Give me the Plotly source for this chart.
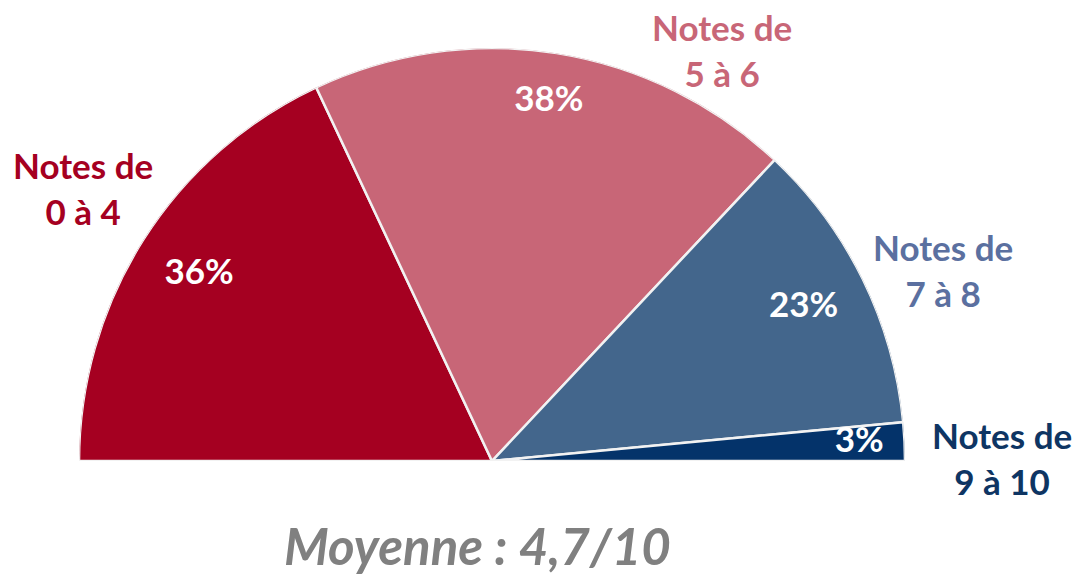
import plotly.graph_objects as go

categories = ["Notes de<br>0 à 4", "Notes de<br>5 à 6", "Notes de<br>7 à 8", "Notes de<br>9 à 10"]
values = [36, 38, 23, 3]
pct_labels = ["36%", "38%", "23%", "3%"]
slice_colors = ["#A50021", "#C86677", "#43668C", "#04336A"]
label_colors = ["#A50021", "#C86677", "#5B70A0", "#0E3563"]
subtitle = "Moyenne : 4,7/10"

total = sum(values)
# angular widths (degrees over a 180° half-circle) and centers
widths = [v / total * 180 for v in values]
centers = []
acc = 0
for w in widths:
    centers.append(acc + w / 2)
    acc += w

FONT = "Lato"

fig = go.Figure()
fig.add_trace(go.Barpolar(
    r=[1] * len(values), theta=centers, width=widths,
    marker=dict(color=slice_colors, line=dict(color="#F2F2F2", width=2.5)),
    hoverinfo="skip", showlegend=False,
))
# percentage labels inside
fig.add_trace(go.Scatterpolar(
    r=[0.84, 0.88, 0.84, 0.89], theta=centers, mode="text",
    text=[f"<b>{t}</b>" for t in pct_labels],
    textfont=dict(family=FONT, size=35, color="white"),
    cliponaxis=False, showlegend=False, hoverinfo="skip",
))

# category labels outside the half-pie (paper positions)
label_pos = [(83, 188), (722, 50), (943, 270), (1002, 458)]
annotations = []
for t, c, (px, py) in zip(categories, label_colors, label_pos):
    annotations.append(dict(
        text=f"<b>{t}</b>", x=px / 1075, y=1 - py / 577,
        xref="paper", yref="paper", showarrow=False, align="center",
        xanchor="center", yanchor="middle",
        font=dict(family=FONT, size=35, color=c),
    ))
annotations.append(dict(
    text=f"<b><i>{subtitle}</i></b>", x=477 / 1075, y=1 - 545 / 577,
    xref="paper", yref="paper", showarrow=False,
    xanchor="center", yanchor="middle",
    font=dict(family=FONT, size=51, color="#808080"),
))

cx, cy, R = 492, 461, 413
fig.update_layout(
    width=1075, height=577,
    margin=dict(l=0, r=0, t=0, b=0),
    paper_bgcolor="white", plot_bgcolor="white",
    polar=dict(
        domain=dict(x=[(cx - R) / 1075, (cx + R) / 1075],
                    y=[1 - cy / 577, 1 - (cy - R) / 577]),
        sector=[0, 180],
        bgcolor="white",
        radialaxis=dict(range=[0, 1], visible=False, showgrid=False),
        angularaxis=dict(rotation=180, direction="clockwise", visible=False,
                         showgrid=False),
        bargap=0,
    ),
    annotations=annotations,
)

fig.write_html("out.html", config={"displayModeBar": False},
               post_script="document.body.style.margin='0';document.body.style.overflow='hidden';")
